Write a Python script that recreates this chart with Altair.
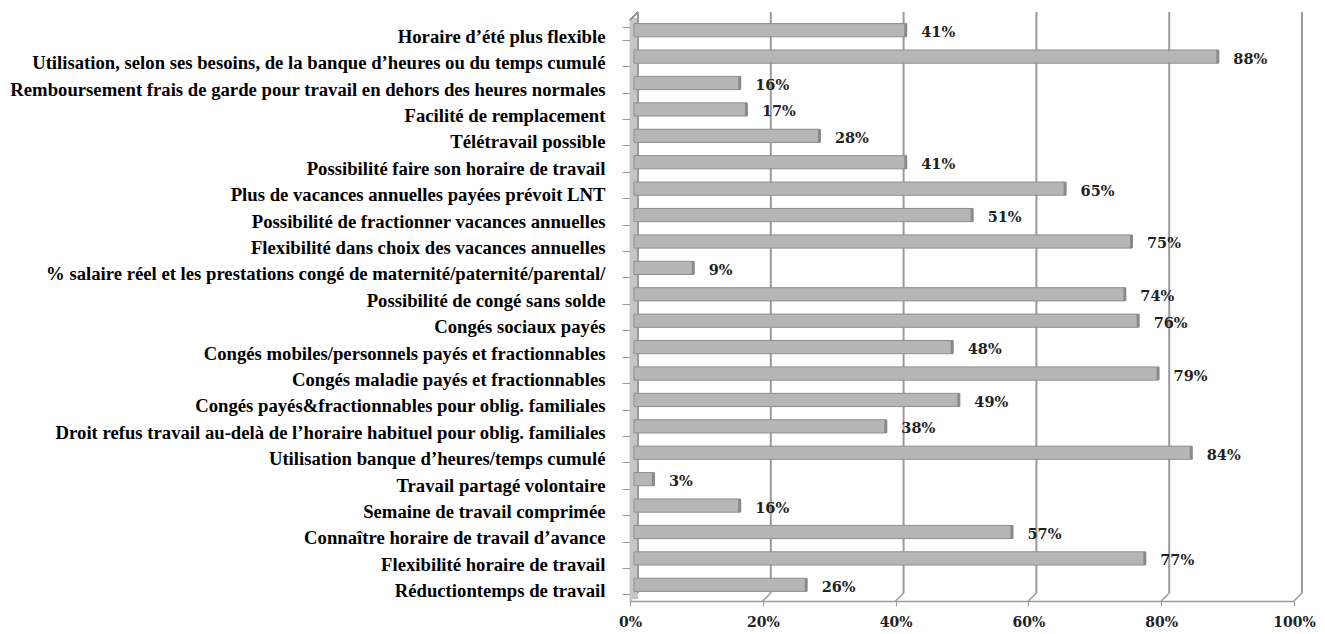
import altair as alt
import pandas as pd

categories = [
    "Horaire d’été plus flexible",
    "Utilisation, selon ses besoins, de la banque d’heures ou du temps cumulé",
    "Remboursement frais de garde pour travail en dehors des heures normales",
    "Facilité de remplacement",
    "Télétravail possible\u00a0",
    "Possibilité faire son horaire de travail\u00a0",
    "Plus de vacances annuelles payées prévoit LNT\u00a0",
    "Possibilité de fractionner vacances annuelles",
    "Flexibilité dans choix des vacances annuelles",
    "% salaire réel et les prestations congé de maternité/paternité/parental/",
    "Possibilité de congé sans solde",
    "Congés sociaux payés\u00a0",
    "Congés mobiles/personnels payés et fractionnables",
    "Congés maladie payés et fractionnables",
    "Congés payés&fractionnables pour oblig. familiales",
    "Droit refus travail au-delà de l’horaire habituel pour oblig. familiales",
    "Utilisation banque d’heures/temps cumulé",
    "Travail partagé volontaire\u00a0",
    "Semaine de travail comprimée",
    "Connaître horaire de travail d’avance",
    "Flexibilité horaire de travail\u00a0",
    "Réductiontemps de travail\u00a0",
]
values = [0.41, 0.88, 0.16, 0.17, 0.28, 0.41, 0.65, 0.51, 0.75, 0.09, 0.74,
          0.76, 0.48, 0.79, 0.49, 0.38, 0.84, 0.03, 0.16, 0.57, 0.77, 0.26]
grid_values = [0.2, 0.4, 0.6, 0.8, 1.0]
tick_values = [0, 0.2, 0.4, 0.6, 0.8, 1.0]

df = pd.DataFrame({"cat": categories, "v": values})
gdf = pd.DataFrame({"g": grid_values})

W, H = 664, 581
D = 8  # depth offset

xscale = alt.Scale(domain=[0, 1], nice=False)
yscale = alt.Scale(domain=categories, paddingInner=0.5, paddingOuter=0.25)

GRAY = "#9a9a9a"

# left wall
wall = alt.Chart(gdf).mark_rect(fill="#c6c6c6").encode(
    x=alt.value(0), x2=alt.value(D), y=alt.value(-2), y2=alt.value(H - 2)
)
wall_back = alt.Chart(gdf).mark_rule(color=GRAY, strokeWidth=1.5).encode(
    x=alt.value(D), y=alt.value(-D), y2=alt.value(H - D)
)
wall_top = alt.Chart(gdf).mark_rule(color=GRAY, strokeWidth=1.5).encode(
    x=alt.value(0), x2=alt.value(D), y=alt.value(0), y2=alt.value(-D)
)

# back-wall gridlines
grid = alt.Chart(gdf).mark_rule(color=GRAY, strokeWidth=2, xOffset=D).encode(
    x=alt.X("g:Q", scale=xscale), y=alt.value(-D), y2=alt.value(H - D)
)
grid_diag = alt.Chart(gdf).mark_rule(color=GRAY, strokeWidth=1.5, x2Offset=D).encode(
    x=alt.X("g:Q", scale=xscale), x2="g:Q", y=alt.value(H), y2=alt.value(H - D)
)

# bars
bars = alt.Chart(df).mark_bar(
    fill="#b6b6b6", stroke="#8e8e8e", strokeWidth=1, xOffset=4, yOffset=-3,
    cornerRadius=0
).encode(
    x=alt.X("v:Q", scale=xscale,
            axis=alt.Axis(values=tick_values, format=".0%", grid=False,
                          title=None, domainColor=GRAY, domainWidth=1.5,
                          tickColor=GRAY, tickSize=5, labelPadding=9,
                          labelFont="DejaVu Serif", labelFontWeight="bold",
                          labelFontSize=14, labelColor="#222222",
                          labelFlush=False)),
    y=alt.Y("cat:N", scale=yscale, sort=None,
            axis=alt.Axis(title=None, tickBand="extent", tickSize=8,
                          tickColor=GRAY, domainColor=GRAY, domainWidth=1.5,
                          labelPadding=17, labelLimit=800, labelOffset=3,
                          labelFont="Liberation Serif", labelFontWeight="bold",
                          labelFontSize=18.7, labelColor="#000000")),
)
caps = alt.Chart(df).mark_rect(
    fill="#8a8a8a", xOffset=2, x2Offset=5, yOffset=-3
).encode(
    x=alt.X("v:Q", scale=xscale), x2="v:Q",
    y=alt.Y("cat:N", scale=yscale, sort=None),
)

labels = alt.Chart(df).mark_text(
    align="left", baseline="middle", dx=19, font="DejaVu Serif",
    fontWeight="bold", fontSize=14.5, color="#222222"
).encode(
    x=alt.X("v:Q", scale=xscale),
    y=alt.Y("cat:N", scale=yscale, sort=None),
    text=alt.Text("v:Q", format=".0%"),
)

chart = alt.layer(
    wall, wall_back, wall_top, grid, grid_diag, bars, caps, labels
).properties(
    width=W, height=H,
    autosize=alt.AutoSizeParams(type="none"),
    padding={"left": 622, "top": 12, "right": 23, "bottom": 33},
).configure_view(stroke=None)

chart.save("out.html", embed_options={"renderer": "svg", "actions": False})
